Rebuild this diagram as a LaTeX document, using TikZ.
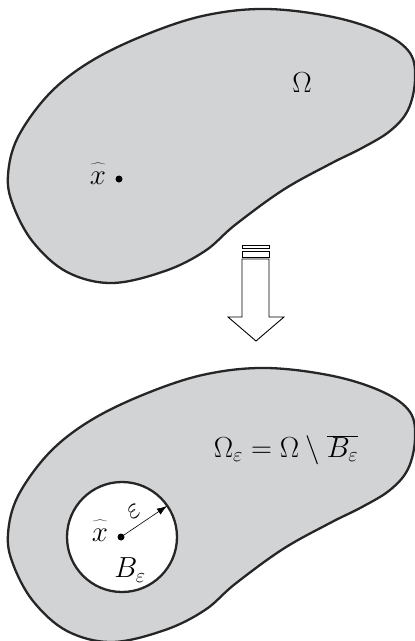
\RequirePackage{fix-cm}
\documentclass[tikz,border=0pt]{standalone}
\usetikzlibrary{arrows.meta}
\definecolor{regiongray}{RGB}{210,211,213}
\begin{document}
\begin{tikzpicture}[x=1pt,y=-1pt,
  region/.style={draw=black!85,line width=2.3pt,fill=regiongray},
  lbl/.style={inner sep=0pt,font=\fontsize{29}{34}\selectfont},
  hollow/.style={draw=black,line width=0.9pt,fill=white},
  dotmark/.style={circle,fill=black,inner sep=0pt,minimum size=7pt}]
\useasboundingbox (0,0) rectangle (415,641);
\def\blob{plot[smooth cycle,tension=0.6] coordinates{(267,9) (333,17) (383,33) (410,53) (415,80) (408,110) (390,131) (362,148) (330,164) (283,190) (235,225) (205,251) (165,271) (112,283) (67,272) (33,242) (13,205) (8,175) (18,137) (50,93) (93,60) (150,33) (207,15)}}
% top region
\draw[region] \blob;
\node[lbl] (om) at (302,83) {$\Omega$};
\node[dotmark] (x1) at (119,179) {};
\node[lbl,anchor=base] (xh1) at (98,184) {$\widehat{\vphantom{t}x}$};
% arrow
\draw[hollow] (242,245) rectangle (269,248);
\draw[hollow] (242,251) rectangle (269,257);
\draw[hollow] (242,259) -- (242,317) -- (228,317) -- (256,341) -- (284,317) -- (269,317) -- (269,259) -- cycle;
% bottom region
\begin{scope}[yshift=-359pt]
\draw[region] \blob;
\end{scope}
\draw[line width=2.3pt,draw=black!85,fill=white] (122,537) circle (55);
\node[dotmark] (c) at (121,537) {};
\coordinate (r) at (167,506);
\draw[-{Latex[length=10pt,width=7pt]},line width=0.6pt] (c) -- (r);
\node[lbl,rotate=35] (eps) at (134,512) {$\varepsilon$};
\node[lbl,anchor=base] (xh2) at (100,541) {$\widehat{\vphantom{t}x}$};
\node[lbl] (be) at (130,570) {$B_\varepsilon$};
\node[lbl] (oe) at (286,450) {$\Omega_\varepsilon=\Omega\setminus\overline{B_\varepsilon}$};
\end{tikzpicture}
\end{document}
